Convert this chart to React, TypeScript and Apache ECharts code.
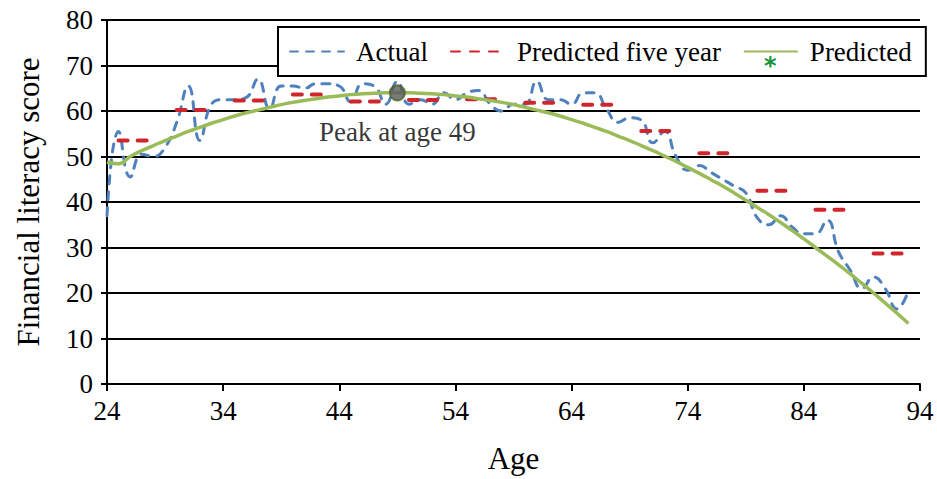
import React, { useEffect, useRef } from "react";
import * as echarts from "echarts";

const ages = Array.from({ length: 70 }, (_, i) => 24 + i);
const actual = [37, 55.5, 45.5, 50.5, 50, 52, 57.5, 65.5, 53.5, 61.5, 62.5, 62.5, 63, 67, 60.5, 65.5, 65.5, 65, 66, 66, 65.5, 62, 66, 65.5, 61.5, 66.5, 61.5, 62.5, 61.5, 64, 62.5, 64, 64.5, 61.5, 60, 61.5, 61.5, 66.5, 62.5, 62.5, 61.5, 64, 64, 60.5, 57.5, 58.5, 58, 53, 55.5, 50, 47, 48, 46.5, 45, 43.5, 42, 36.5, 35, 37, 34.5, 33, 33, 36, 29, 25, 21, 23.5, 21, 16.5, 20.5];
const predicted = [48.8, 48.4, 50.0, 51.3, 52.4, 53.5, 54.5, 55.5, 56.4, 57.3, 58.1, 58.9, 59.6, 60.2, 60.8, 61.4, 61.9, 62.3, 62.7, 63.1, 63.3, 63.6, 63.8, 63.9, 64.0, 64.0, 64.0, 63.9, 63.8, 63.6, 63.3, 63.1, 62.7, 62.3, 61.9, 61.4, 60.8, 60.2, 59.6, 58.9, 58.1, 57.3, 56.4, 55.5, 54.5, 53.5, 52.4, 51.3, 50.1, 48.9, 47.6, 46.3, 44.9, 43.5, 42.0, 40.4, 38.8, 37.2, 35.5, 33.7, 31.9, 30.0, 28.1, 26.2, 24.2, 22.1, 20.0, 17.8, 15.6, 13.3];
const fiveYearStarts = [25, 30, 35, 40, 45, 50, 55, 60, 65, 70, 75, 80, 85, 90];
const fiveYearValues = [53.5, 60.2, 62.3, 63.6, 62.1, 62.4, 62.6, 61.8, 61.4, 55.6, 50.7, 42.5, 38.3, 28.7];
const fiveYearSpan = 2.7;
const peakAge = 49;
const peakValue = 64;
const xTicks = [24, 34, 44, 54, 64, 74, 84, 94];

const FONT = "'Liberation Serif', 'Times New Roman', serif";
const TXT = "#000";

export default function App() {
  const ref = useRef<HTMLDivElement>(null);
  useEffect(() => {
    if (!ref.current) return;
    const chart = echarts.init(ref.current, undefined, { renderer: "svg" });
    const fiveData: any[] = [];
    fiveYearStarts.forEach((s, i) => {
      fiveData.push([s, fiveYearValues[i]]);
      fiveData.push([s + fiveYearSpan, fiveYearValues[i]]);
      fiveData.push([s + fiveYearSpan + 0.1, "-"]);
    });
    chart.setOption({
      animation: false,
      backgroundColor: "#fff",
      grid: { left: 107, right: 17, top: 20, bottom: 91, containLabel: false },
      legend: {
        data: ["Actual", "Predicted five year", "Predicted"],
        left: 278,
        top: 27,
        itemWidth: 54,
        itemHeight: 14,
        itemGap: 22,
        padding: [11, 14, 11, 11],
        backgroundColor: "#fff",
        borderColor: "#000",
        borderWidth: 2,
        borderRadius: 0,
        itemStyle: { opacity: 0 },
        textStyle: { fontFamily: FONT, fontSize: 27, color: TXT, padding: [0, 0, 0, 7] },
      },
      xAxis: {
        type: "value",
        min: 24,
        max: 94,
        name: "Age",
        nameLocation: "middle",
        nameGap: 59,
        nameTextStyle: { fontFamily: FONT, fontSize: 31, color: TXT },
        axisLine: { show: true, onZero: false, lineStyle: { color: "#000", width: 2 } },
        axisTick: { show: true, length: 7, customValues: xTicks, lineStyle: { color: "#000", width: 2 } },
        axisLabel: { customValues: xTicks, fontFamily: FONT, fontSize: 27, color: TXT, margin: 13 },
        splitLine: { show: false },
      },
      yAxis: {
        type: "value",
        min: 0,
        max: 80,
        interval: 10,
        name: "Financial literacy score",
        nameLocation: "middle",
        nameGap: 63,
        nameTextStyle: { fontFamily: FONT, fontSize: 31, color: TXT },
        axisLine: { show: true, lineStyle: { color: "#000", width: 2 } },
        axisTick: { show: true, length: 6, lineStyle: { color: "#000", width: 2 } },
        axisLabel: { fontFamily: FONT, fontSize: 27, color: TXT, margin: 14 },
        splitLine: { show: true, lineStyle: { color: "#000", width: 2 } },
      },
      series: [
        {
          name: "Actual",
          type: "line",
          data: ages.map((a, i) => [a, actual[i]]),
          smooth: 0.5,
          symbol: "none",
          lineStyle: { color: "#4F81BD", width: 3, type: [8, 8], cap: "round" },
          itemStyle: { color: "#4F81BD" },
          z: 2,
        },
        {
          name: "Predicted five year",
          type: "line",
          data: fiveData,
          connectNulls: false,
          symbol: "none",
          lineStyle: { color: "#D0262B", width: 4, type: [9, 10], cap: "round" },
          itemStyle: { color: "#D0262B" },
          z: 3,
        },
        {
          name: "Predicted",
          type: "line",
          data: ages.map((a, i) => [a, predicted[i]]),
          smooth: true,
          symbol: "none",
          lineStyle: { color: "#9BBB59", width: 3.5 },
          itemStyle: { color: "#9BBB59" },
          z: 4,
        },
        {
          name: "Peak",
          type: "scatter",
          data: [[peakAge, peakValue]],
          symbolSize: 15,
          itemStyle: { color: "#5a5a5a", borderColor: "#4f6228", borderWidth: 2 },
          label: {
            show: true,
            position: "bottom",
            distance: 17,
            formatter: "Peak at age " + peakAge,
            fontFamily: FONT,
            fontSize: 27,
            color: TXT,
          },
          z: 5,
        },
      ],
      graphic: [
        {
          type: "text",
          left: 764,
          top: 54,
          z: 100,
          style: { text: "*", fill: "#17923a", font: "bold 24px 'DejaVu Sans'" },
        },
      ],
    });
    return () => chart.dispose();
  }, []);
  return <div ref={ref} style={{ width: 937, height: 479, position: "absolute", left: 0, top: 0 }} />;
}
